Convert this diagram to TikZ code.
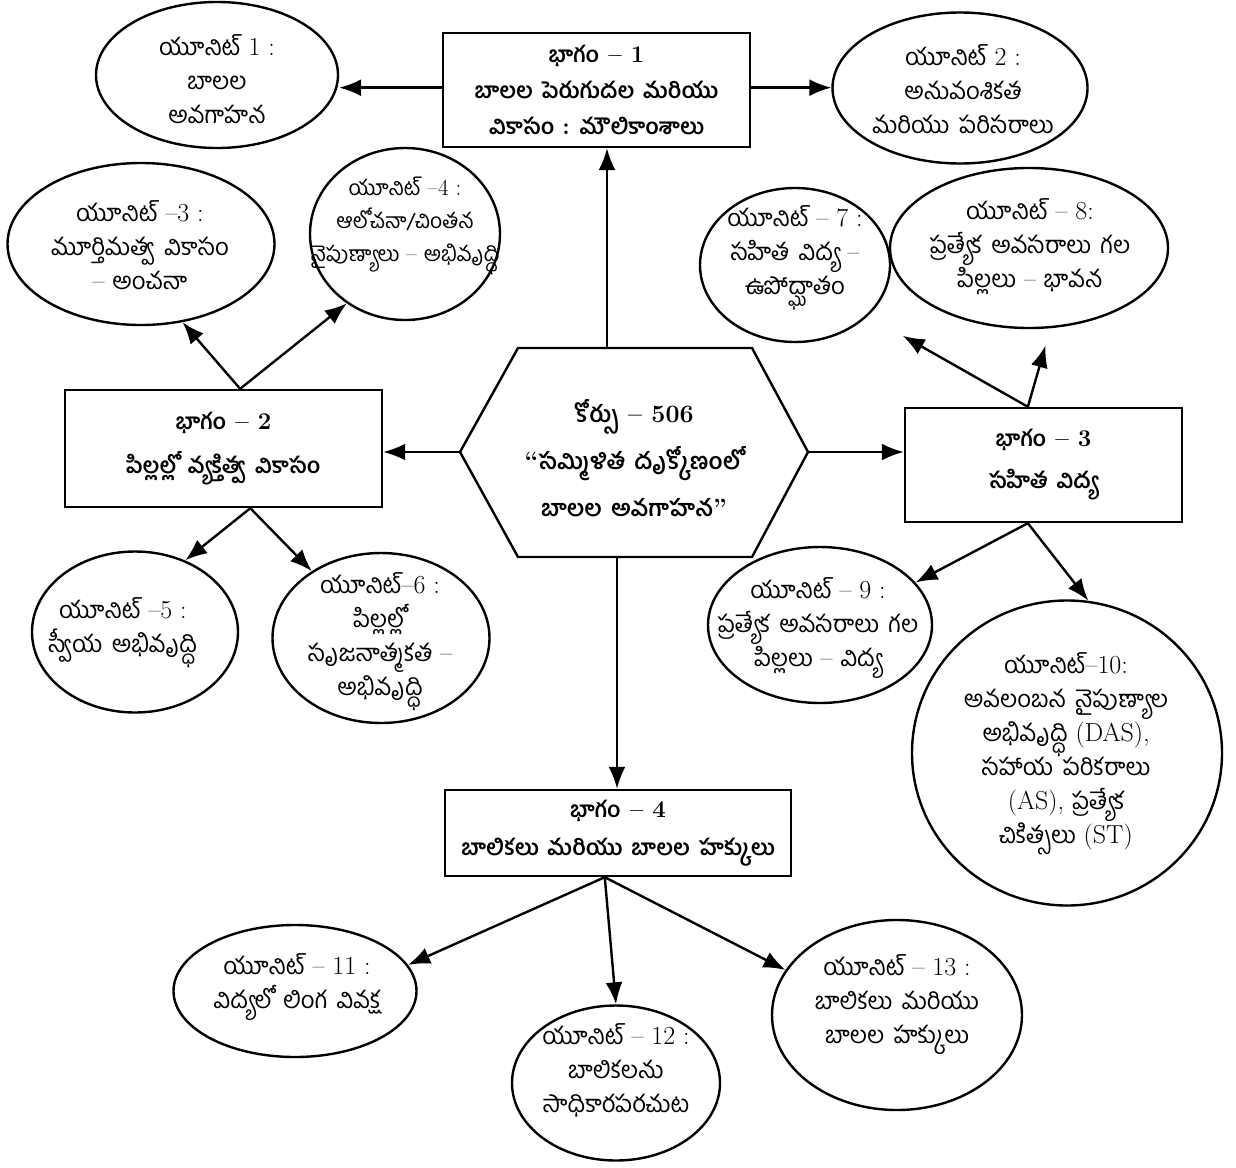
\documentclass[tikz,border=0pt]{standalone}
\usepackage{fontspec}
\newfontfamily\telfont[Script=Telugu, WordSpace=1.6, Scale=0.92]{Hind Guntur}
\newcommand\tg[1]{{\telfont #1}}
\usetikzlibrary{arrows.meta,calc,shapes.geometric}
\tikzset{
  unit/.style={draw, ellipse, line width=2.4pt, inner sep=0pt},
  part/.style={draw, rectangle, line width=2.4pt, inner sep=0pt, align=center,
    font=\fontsize{24}{36}\selectfont\bfseries},
  txt/.style={align=center, inner sep=0pt, font=\fontsize{26}{34}\selectfont},
  arr/.style={-{Latex[length=22pt,width=17pt]}, line width=2.4pt},
}
\begin{document}
\begin{tikzpicture}[x=1pt,y=-1pt]
\useasboundingbox (0,0) rectangle (1236,1167);

% parts (boxes)
\node[part, minimum width=307pt, minimum height=114pt] (b1) at (596.5,90)
  {\tg{భాగం} – 1\\ \tg{బాలల పెరుగుదల మరియు}\\ \tg{వికాసం : మౌలికాంశాలు}};
\node[part, minimum width=317pt, minimum height=117pt,
  font=\fontsize{24}{44}\selectfont\bfseries] (b2) at (223.5,448.5)
  {\tg{భాగం} – 2\\ \tg{పిల్లల్లో వ్యక్తిత్వ వికాసం}};
\node[part, minimum width=277pt, minimum height=114pt,
  font=\fontsize{24}{42}\selectfont\bfseries] (b3) at (1043.5,465)
  {\tg{భాగం} – 3\\ \tg{సహిత విద్య}};
\node[part, minimum width=346pt, minimum height=86pt,
  font=\fontsize{24}{38}\selectfont\bfseries] (b4) at (618,833)
  {\tg{భాగం} – 4\\ \tg{బాలికలు మరియు బాలల హక్కులు}};

% central hexagon
\coordinate (hL) at (460,452);
\coordinate (hTL) at (518,348);
\coordinate (hTR) at (752,348);
\coordinate (hR) at (808,452);
\coordinate (hBR) at (752,557);
\coordinate (hBL) at (518,557);
\draw[line width=2.4pt, line join=miter] (hL) -- (hTL) -- (hTR) -- (hR) -- (hBR) -- (hBL) -- cycle;
\coordinate (hT) at (607,348);
\coordinate (hB) at (617,557);
\node[txt, font=\fontsize{25}{47}\selectfont\bfseries] (hex) at (634,458)
  {\tg{కోర్సు} – 506\\ “\tg{సమ్మిళిత దృక్కోణంలో}\\ \tg{బాలల అవగాహన}”};

% unit ellipses
\node[unit, minimum width=242pt, minimum height=146pt] (u1) at (217,75) {};
\node[unit, minimum width=255pt, minimum height=151pt] (u2) at (960,88) {};
\node[unit, minimum width=267pt, minimum height=162pt] (u3) at (141,244) {};
\node[unit, minimum width=190pt, minimum height=172pt] (u4) at (405,234) {};
\node[unit, minimum width=206pt, minimum height=161pt] (u5) at (135,632) {};
\node[unit, minimum width=217pt, minimum height=170pt] (u6) at (381,638) {};
\node[unit, minimum width=190pt, minimum height=154pt] (u7) at (795,265) {};
\node[unit, minimum width=278pt, minimum height=160pt] (u8) at (1029,248) {};
\node[unit, minimum width=224pt, minimum height=156pt] (u9) at (820,625) {};
\node[unit, minimum width=310pt, minimum height=305pt] (u10) at (1067,753) {};
\node[unit, minimum width=243pt, minimum height=132pt] (u11) at (295,991) {};
\node[unit, minimum width=208pt, minimum height=155pt] (u12) at (616,1083) {};
\node[unit, minimum width=250pt, minimum height=190pt] (u13) at (897,1015) {};

% unit texts
\node[txt] (t1) at (217,79) {\tg{యూనిట్} 1 :\\ \tg{బాలల}\\ \tg{అవగాహన}};
\node[txt] (t2) at (963,89) {\tg{యూనిట్} 2 :\\ \tg{అనువంశికత}\\ \tg{మరియు పరిసరాలు}};
\node[txt] (t3) at (140,245) {\tg{యూనిట్} –3 :\\ \tg{మూర్తిమత్వ వికాసం}\\ – \tg{అంచనా}};
\node[txt, font=\fontsize{23}{33}\selectfont] (t4) at (405,226) {\tg{యూనిట్} –4 :\\ \tg{ఆలోచనా/చింతన}\\ \tg{నైపుణ్యాలు} – \tg{అభివృద్ధి}};
\node[txt] (t5) at (123,633) {\tg{యూనిట్} –5 :\\ \tg{స్వీయ అభివృద్ధి}};
\node[txt] (t6) at (380,642) {\tg{యూనిట్}–6 :\\ \tg{పిల్లల్లో}\\ \tg{సృజనాత్మకత} –\\ \tg{అభివృద్ధి}};
\node[txt] (t7) at (795,258) {\tg{యూనిట్} – 7 :\\ \tg{సహిత విద్య} –\\ \tg{ఉపోద్ఘాతం}};
\node[txt] (t8) at (1030,247) {\tg{యూనిట్} – 8:\\ \tg{ప్రత్యేక అవసరాలు గల}\\ \tg{పిల్లలు} – \tg{భావన}};
\node[txt] (t9) at (818,628) {\tg{యూనిట్} – 9 :\\ \tg{ప్రత్యేక అవసరాలు గల}\\ \tg{పిల్లలు} – \tg{విద్య}};
\node[txt, font=\fontsize{26}{34}\selectfont] (t10) at (1066,754)
  {\tg{యూనిట్}–10:\\ \tg{అవలంబన నైపుణ్యాల}\\ \tg{అభివృద్ధి} (DAS),\\ \tg{సహాయ పరికరాలు}\\ (AS), \tg{ప్రత్యేక}\\ \tg{చికిత్సలు} (ST)};
\node[txt] (t11) at (297,987) {\tg{యూనిట్} – 11 :\\ \tg{విద్యలో లింగ వివక్ష}};
\node[txt] (t12) at (616,1070) {\tg{యూనిట్} – 12 :\\ \tg{బాలికలను}\\ \tg{సాధికారపరచుట}};
\node[txt] (t13) at (897,1005) {\tg{యూనిట్} – 13 :\\ \tg{బాలికలు మరియు}\\ \tg{బాలల హక్కులు}};

% connectors
\draw[arr] ($(b1.north west)!0.48!(b1.south west)$) -- (u1.east |- {$(b1.north west)!0.48!(b1.south west)$});
\draw[arr] ($(b1.north east)!0.48!(b1.south east)$) -- (u2.west |- {$(b1.north east)!0.48!(b1.south east)$});
\draw[arr] (hT) -- (hT |- b1.south);
\draw[arr] (hL) -- (hL -| b2.east);
\draw[arr] (hR) -- (hR -| b3.west);
\draw[arr] (hB) -- (hB |- b4.north);

\draw[arr] ($(b2.north west)!0.552!(b2.north east)$) -- (u3.-62);
\draw[arr] ($(b2.north west)!0.552!(b2.north east)$) -- (u4.-130);
\draw[arr] ($(b2.south west)!0.584!(b2.south east)$) -- (u5.55);
\draw[arr] ($(b2.south west)!0.584!(b2.south east)$) -- (u6.136);

\draw[arr, shorten >=40pt] ($(b3.north west)!0.444!(b3.north east)$) -- (u7.-35);
\draw[arr, shorten >=18pt] ($(b3.north west)!0.444!(b3.north east)$) -- (u8.-75);
\draw[arr] ($(b3.south west)!0.444!(b3.south east)$) -- (u9.24);
\draw[arr] ($(b3.south west)!0.444!(b3.south east)$) -- (u10.82);

\draw[arr] ($(b4.south west)!0.462!(b4.south east)$) -- (u11.13);
\draw[arr] ($(b4.south west)!0.462!(b4.south east)$) -- (u12.north);
\draw[arr] ($(b4.south west)!0.462!(b4.south east)$) -- (u13.158);
\end{tikzpicture}
\end{document}
